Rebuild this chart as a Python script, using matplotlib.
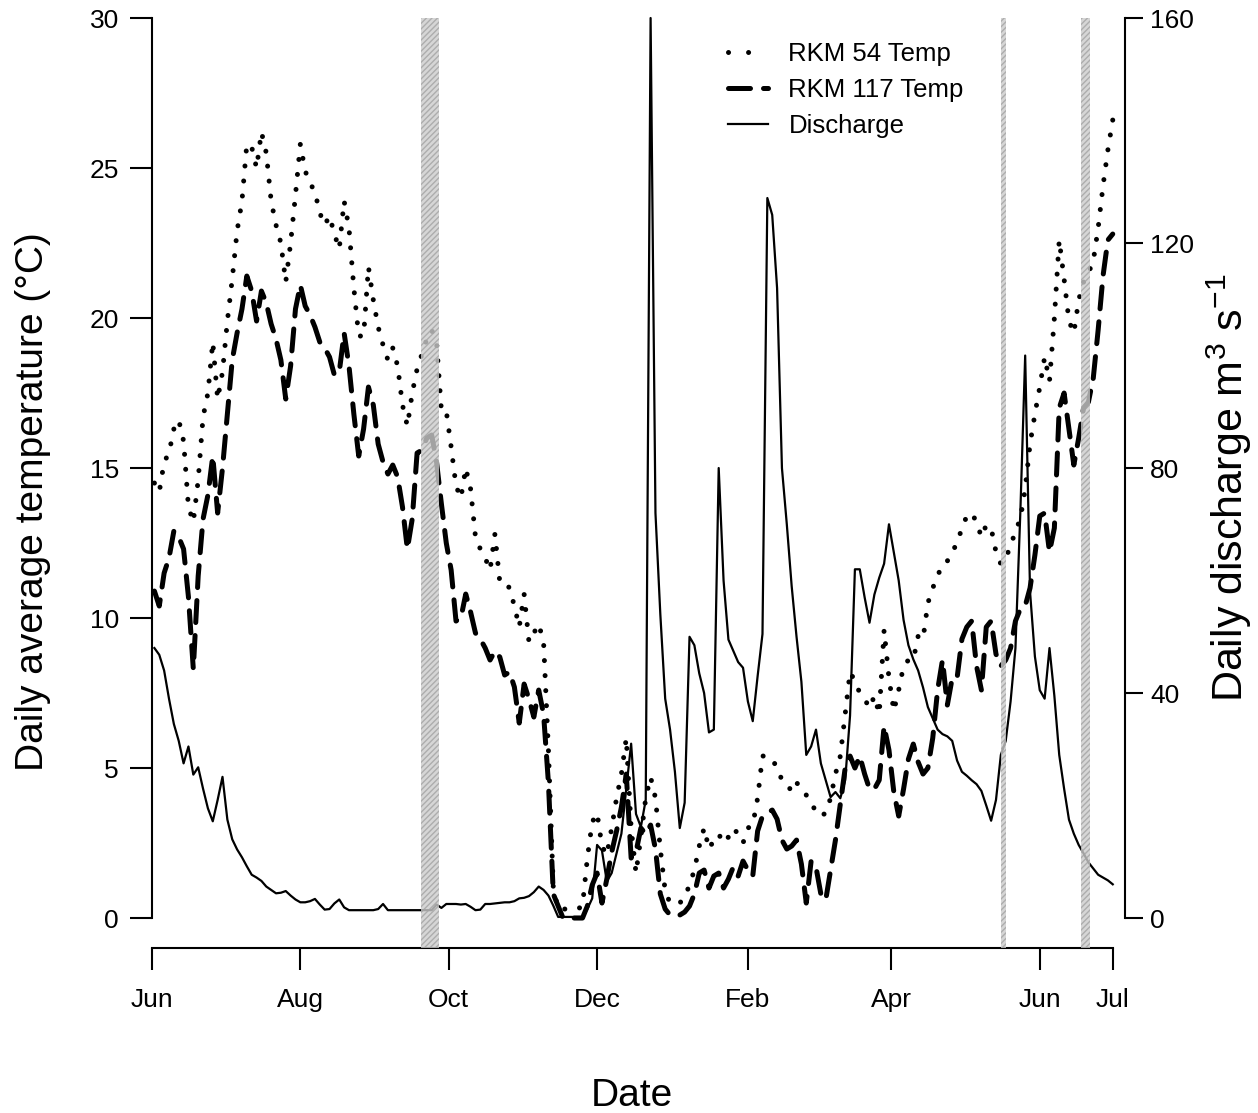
import numpy as np
import pandas as pd
import matplotlib.pyplot as plt
import matplotlib.dates as mdates
from matplotlib.lines import Line2D


plt.rcParams['font.family'] = ['Liberation Sans', 'DejaVu Sans']
plt.rcParams['mathtext.fontset'] = 'custom'
plt.rcParams['mathtext.rm'] = 'Liberation Sans'
plt.rcParams['mathtext.it'] = 'Liberation Sans:italic'
plt.rcParams['mathtext.bf'] = 'Liberation Sans:bold'

# %%
# daily means, every second day from 2 Jun 2013 to 1 Jul 2014
dates = pd.date_range('2013-06-02', '2014-07-01', freq='2D')

temp_rkm54 = [
    14.5, 14.2, 15.2, 15.5, 16.3, 16.6, 15.9, 13.7, 13.2, 14.6,
    16.7, 17.5, 19.2, 17.3, 18.2, 19.9, 21.3, 22.9, 23.9, 25.8,
    25.7, 25.0, 26.2, 25.5, 23.9, 23.1, 22.5, 21.2, 22.5, 24.1,
    25.8, 24.9, 24.5, 24.2, 23.5, 23.1, 23.4, 22.8, 22.3, 23.9,
    23.0, 21.0, 19.4, 19.4, 21.7, 20.6, 19.7, 19.1, 18.6, 19.0,
    18.4, 17.1, 16.4, 17.5, 18.3, 18.8, 19.3, 19.6, 19.2, 16.9,
    16.9, 15.7, 14.4, 14.0, 15.0, 14.3, 12.7, 12.3, 12.0, 11.6,
    12.8, 11.2, 11.2, 11.0, 10.4, 9.7, 10.8, 9.2, 9.5, 9.8,
    9.2, 5.6, 1.0, 0.3, 0.3, 0.3, 0.3, 0.3, 0.4, 2.0,
    3.2, 3.5, 2.4, 2.1, 3.0, 4.0, 4.8, 6.0, 3.0, 1.5,
    2.7, 4.0, 4.7, 4.0, 2.3, 0.9, 0.5, 0.5, 0.5, 0.7,
    1.1, 1.6, 2.4, 3.0, 2.3, 2.6, 2.8, 2.5, 2.7, 3.0,
    2.8, 2.5, 3.0, 3.1, 4.0, 5.4, 5.4, 5.3, 5.0, 4.6,
    4.5, 4.2, 4.5, 4.4, 4.1, 3.9, 3.5, 3.4, 3.5, 4.0,
    4.8, 5.4, 6.8, 8.2, 7.9, 7.5, 7.3, 7.0, 7.4, 6.8,
    9.6, 8.0, 6.9, 7.6, 8.4, 8.6, 8.6, 9.4, 9.3, 10.5,
    11.0, 11.4, 11.8, 11.9, 12.2, 12.5, 13.0, 13.4, 13.5, 13.2,
    12.7, 13.1, 13.0, 12.2, 11.8, 12.0, 12.4, 12.9, 13.3, 14.3,
    15.8, 16.8, 17.7, 18.7, 17.9, 20.0, 22.6, 21.3, 19.9, 19.5,
    20.6, 21.2, 21.5, 21.9, 23.0, 24.4, 25.6, 26.6,
]

temp_rkm117 = [
    10.9, 10.4, 11.5, 12.0, 12.9, 12.7, 12.3, 10.7, 8.3, 11.4,
    13.3, 14.1, 15.4, 13.5, 15.0, 16.8, 18.6, 19.5, 20.3, 21.4,
    20.9, 19.9, 20.9, 20.5, 19.8, 19.3, 18.6, 17.3, 18.4, 20.3,
    21.1, 20.4, 20.1, 19.7, 19.2, 19.0, 18.7, 18.1, 18.2, 19.5,
    18.4, 16.8, 15.4, 16.3, 17.7, 17.1, 15.8, 15.2, 14.8, 15.1,
    14.7, 13.7, 12.3, 13.3, 15.5, 15.6, 16.0, 16.1, 15.2, 13.8,
    12.5, 11.6, 9.9, 10.0, 10.8, 10.2, 9.5, 9.3, 9.0, 8.6,
    8.9, 8.7, 8.1, 8.2, 7.7, 6.5, 7.8, 7.3, 6.7, 7.6,
    6.8, 4.5, 0.8, 0.4, 0.0, 0.0, 0.0, 0.0, 0.0, 0.4,
    1.1, 1.5, 0.5, 1.3, 2.2, 2.9, 3.7, 4.8, 2.0, 2.2,
    3.0, 2.8, 3.1, 2.3, 0.8, 0.3, 0.1, 0.1, 0.1, 0.2,
    0.4, 0.8, 1.5, 1.6, 1.0, 1.4, 1.5, 1.0, 1.3, 1.7,
    1.4, 1.9, 1.6, 1.4, 2.9, 3.4, 3.5, 3.6, 3.3, 2.6,
    2.3, 2.4, 2.6, 1.8, 0.5, 1.9, 1.7, 0.8, 0.6, 1.6,
    2.6, 3.8, 5.0, 5.4, 5.0, 5.4, 4.8, 4.3, 4.3, 4.6,
    6.4, 5.6, 4.2, 3.4, 4.3, 5.3, 5.8, 5.2, 4.8, 5.0,
    6.0, 7.6, 8.6, 7.1, 8.0, 8.0, 9.3, 9.7, 9.9, 8.4,
    7.6, 9.7, 9.9, 8.8, 8.4, 8.6, 9.0, 9.9, 10.3, 10.4,
    11.0, 12.1, 13.4, 13.5, 12.2, 13.0, 17.0, 17.5, 16.3, 15.1,
    16.0, 17.0, 17.2, 18.0, 19.6, 21.4, 22.6, 22.8,
]

discharge = [
    48.0, 46.8, 44.0, 39.0, 34.5, 31.5, 27.5, 30.5, 25.5, 26.8,
    23.0, 19.5, 17.2, 21.0, 25.1, 17.5, 14.0, 12.2, 10.8, 9.2,
    7.7, 7.2, 6.6, 5.6, 5.0, 4.4, 4.5, 4.8, 4.0, 3.3,
    2.8, 2.8, 3.0, 3.4, 2.4, 1.5, 1.6, 2.6, 3.3, 1.9,
    1.4, 1.4, 1.4, 1.4, 1.4, 1.4, 1.6, 2.5, 1.4, 1.4,
    1.4, 1.4, 1.4, 1.4, 1.4, 1.4, 1.4, 1.4, 2.4, 1.8,
    2.5, 2.5, 2.5, 2.4, 2.5, 2.0, 1.4, 1.5, 2.5, 2.5,
    2.6, 2.7, 2.8, 2.8, 3.0, 3.5, 3.6, 3.9, 4.6, 5.6,
    5.0, 4.0, 2.2, 0.2, 0.2, 0.2, 0.2, 0.2, 0.2, 1.6,
    3.5, 13.0, 12.0, 6.5, 8.0, 11.5, 15.0, 23.0, 31.0, 18.5,
    16.2, 21.0, 160.0, 72.0, 54.0, 39.0, 33.5, 26.0, 16.0, 20.5,
    50.0, 48.5, 43.5, 40.0, 33.0, 33.5, 80.0, 60.0, 49.5, 47.5,
    45.5, 44.5, 38.5, 35.0, 43.0, 50.5, 128.0, 125.0, 112.0, 80.0,
    70.0, 59.0, 50.0, 42.0, 29.0, 30.5, 33.5, 27.5, 24.5, 21.5,
    22.4, 21.3, 24.5, 36.0, 62.0, 62.0, 57.0, 52.5, 57.5, 60.5,
    63.0, 70.0, 65.0, 60.0, 53.0, 48.5, 46.0, 44.0, 41.0, 37.5,
    35.5, 33.5, 32.7, 32.3, 31.5, 28.0, 26.0, 25.3, 24.5, 23.8,
    22.6, 20.0, 17.3, 21.0, 29.0, 31.5, 38.5, 48.0, 72.0, 100.0,
    58.0, 46.5, 40.5, 39.0, 48.0, 39.5, 29.0, 23.0, 17.5, 15.0,
    13.0, 11.5, 9.9, 8.8, 7.7, 7.2, 6.7, 6.0,
]

# shaded periods
periods = [
    ('2013-09-19 12:00', '2013-09-27'),
    ('2014-05-16', '2014-05-18'),
    ('2014-06-18', '2014-06-21 12:00'),
]

tick_dates = pd.to_datetime(['2013-06-01', '2013-08-01', '2013-10-01', '2013-12-01',
                             '2014-02-01', '2014-04-01', '2014-06-01', '2014-07-01'])
tick_labels = ['Jun', 'Aug', 'Oct', 'Dec', 'Feb', 'Apr', 'Jun', 'Jul']
temp_ticks = [0, 5, 10, 15, 20, 25, 30]
flow_ticks = [0, 40, 80, 120, 160]

# %%
dotted = dict(color='black', lw=3.6, dash_capstyle='round')
dashed = dict(color='black', lw=3.6, linestyle=(0, (4.4, 2.6)), dash_capstyle='round')
solid = dict(color='black', lw=1.6)

fig = plt.figure(figsize=(12.58, 11.13), dpi=100)
ax = fig.add_axes([0.1208, 0.1482, 0.7734, 0.8437])
ax2 = ax.twinx()

ax.plot(dates, temp_rkm54, linestyle=(0, (0.01, 3.0)), **dotted)
ax.plot(dates, temp_rkm117, **dashed)
ax2.plot(dates, discharge, **solid)

temp_lim = (-1, 30.3)
scale = flow_ticks[-1] / temp_ticks[-1]
ax.set_ylim(temp_lim)
ax2.set_ylim(temp_lim[0] * scale, temp_lim[1] * scale)

band_top = (temp_ticks[-1] - temp_lim[0]) / (temp_lim[1] - temp_lim[0])
for start, end in periods:
    ax2.axvspan(pd.Timestamp(start), pd.Timestamp(end), ymin=0, ymax=band_top,
                facecolor='#cccccc', edgecolor='#a3a3a3', hatch='//////',
                lw=0, alpha=0.8, zorder=5)

x0 = pd.Timestamp('2013-06-01')
ax.set_xlim(x0, x0 + pd.Timedelta(days=400))

for side in ['top', 'right']:
    ax.spines[side].set_visible(False)
for side in ['top', 'left', 'bottom']:
    ax2.spines[side].set_visible(False)
ax.spines['left'].set_bounds(temp_ticks[0], temp_ticks[-1])
ax.spines['bottom'].set_bounds(mdates.date2num(tick_dates[0]), mdates.date2num(tick_dates[-1]))
ax2.spines['right'].set_bounds(flow_ticks[0], flow_ticks[-1])
for spine in list(ax.spines.values()) + list(ax2.spines.values()):
    spine.set_linewidth(1.5)

ax.set_xticks(tick_dates, tick_labels)
ax.set_yticks(temp_ticks, [str(t) for t in temp_ticks])
ax2.set_yticks(flow_ticks, [str(t) for t in flow_ticks])
ax.tick_params(axis='x', length=15.8, width=1.5, pad=13, labelsize=19)
ax.tick_params(axis='y', length=15.8, width=1.5, pad=8, labelsize=19)
ax2.tick_params(axis='y', length=13, width=1.5, pad=5, labelsize=19)

# legend keys with a wider dot spacing than the data line
handles = [
    Line2D([], [], linestyle=(0, (0.01, 4.0)), **dotted),
    Line2D([], [], **dashed),
    Line2D([], [], **solid),
]
ax2.legend(handles, ['RKM 54 Temp', 'RKM 117 Temp', 'Discharge'],
           loc='upper left', bbox_to_anchor=(0.5787, 0.9625), bbox_transform=fig.transFigure,
           frameon=False, fontsize=18.5, handlelength=1.55, handletextpad=0.8,
           labelspacing=0.48, borderpad=0, borderaxespad=0)

fig.text(0.0262, 0.549, 'Daily average temperature (°C)', rotation=90,
         ha='center', va='center', fontsize=28)
fig.text(0.977, 0.5615, 'Daily discharge m$^{3}$ s$^{-1}$', rotation=90,
         ha='center', va='center', fontsize=31)
fig.text(0.5024, 0.0063, 'Date', ha='center', va='baseline', fontsize=28)

fig.savefig('out.png', dpi=100)
